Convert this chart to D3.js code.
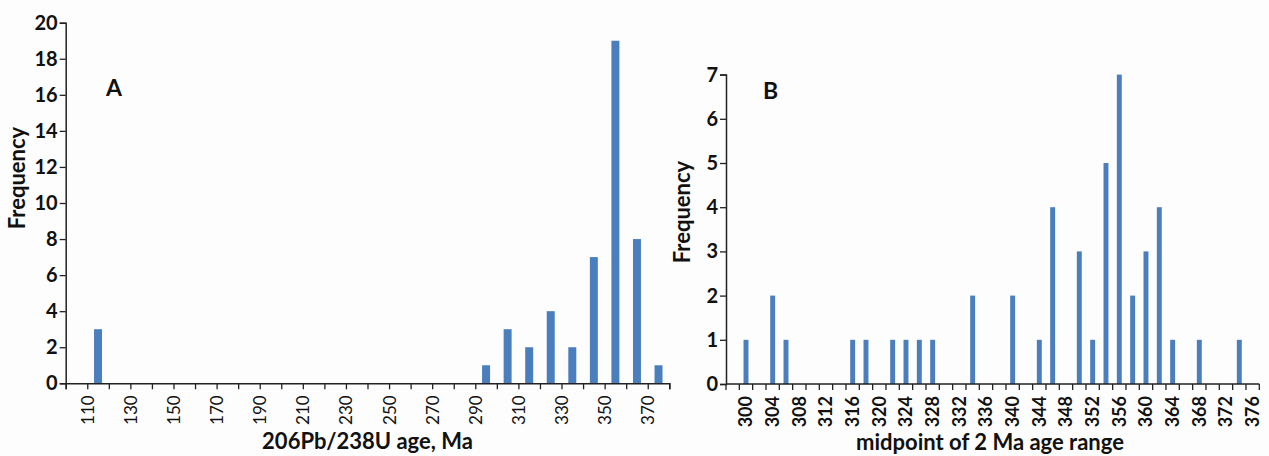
<!DOCTYPE html>
<html>
<head>
<meta charset="utf-8">
<script src="https://cdn.jsdelivr.net/npm/d3@7"></script>
<style>
  html, body { margin: 0; padding: 0; background: #fdfdfd; }
  svg { display: block; }
  text { font-family: Lato, "Open Sans", sans-serif; fill: #111; }
</style>
</head>
<body>
<svg id="chart" width="1269" height="456"></svg>
<script>
// ---- Panel A data: 10 Ma bins (bin centres) ----
const binCentresA = [115, 295, 305, 315, 325, 335, 345, 355, 365, 375];
const freqA = [3, 1, 3, 2, 4, 2, 7, 19, 8, 1];
const xTickLabelsA = [110, 130, 150, 170, 190, 210, 230, 250, 270, 290, 310, 330, 350, 370];
const yTicksA = [0, 2, 4, 6, 8, 10, 12, 14, 16, 18, 20];

// ---- Panel B data: midpoints of 2 Ma ranges ----
const categoriesB = d3.range(298, 377, 2);
const midpointsB = [300, 304, 306, 316, 318, 322, 324, 326, 328, 334, 340, 344, 346, 350, 352, 354, 356, 358, 360, 362, 364, 368, 374];
const freqB =      [1,   2,   1,   1,   1,   1,   1,   1,   1,   2,   2,   1,   4,   3,   1,   5,   7,   2,   3,   4,   1,   1,   1];
const xTickLabelsB = d3.range(300, 377, 4);
const yTicksB = [0, 1, 2, 3, 4, 5, 6, 7];

const barColor = "#4a7ebd";
const axisColor = "#222";
const svg = d3.select("#chart");

function styleAxis(g) {
  g.select(".domain").attr("stroke", axisColor).attr("stroke-width", 1.5);
  g.selectAll(".tick line").attr("stroke", axisColor).attr("stroke-width", 1.3);
}

// ================= Panel A =================
{
  const x = d3.scaleLinear().domain([100, 380]).range([65.7, 669.3]);
  const y = d3.scaleLinear().domain([0, 20]).range([383.3, 22.7]);
  const g = svg.append("g");

  g.selectAll("rect.bar").data(binCentresA).join("rect")
    .attr("class", "bar")
    .attr("x", d => x(d - 1.85))
    .attr("width", d => x(d + 1.85) - x(d - 1.85))
    .attr("y", (d, i) => y(freqA[i]))
    .attr("height", (d, i) => y(0) - y(freqA[i]))
    .attr("fill", barColor);

  // y axis
  const ya = g.append("g").attr("transform", `translate(${x(100)},0)`)
    .call(d3.axisLeft(y).tickValues(yTicksA).tickSize(6).tickPadding(2).tickFormat(d3.format("d")));
  styleAxis(ya);
  ya.selectAll(".tick text").attr("font-size", 20).attr("font-weight", 700).attr("fill", "#111");

  // x axis: tick marks every 10 Ma
  const xa = g.append("g").attr("transform", `translate(0,${y(0)})`)
    .call(d3.axisBottom(x).tickValues(d3.range(100, 381, 10)).tickSize(6)
      .tickFormat(d => xTickLabelsA.includes(d) ? d : ""));
  styleAxis(xa);
  xa.selectAll(".tick text")
    .attr("font-size", 17).attr("font-weight", 400).attr("fill", "#111")
    .attr("transform", "rotate(-90)")
    .attr("text-anchor", "end")
    .attr("x", -12).attr("y", 0).attr("dy", "0.35em");

  g.append("text").attr("x", x(240)).attr("y", 449)
    .attr("text-anchor", "middle").attr("font-size", 22).attr("font-weight", 700)
    .text("206Pb/238U age, Ma");
  g.append("text").attr("transform", "translate(25,178) rotate(-90)")
    .attr("text-anchor", "middle").attr("font-size", 22).attr("font-weight", 700)
    .text("Frequency");
  g.append("text").attr("x", 106).attr("y", 96)
    .attr("font-size", 23).attr("font-weight", 700).text("A");
}

// ================= Panel B =================
{
  const x = d3.scaleBand().domain(categoriesB).range([726, 1259.3]).paddingInner(0).paddingOuter(0);
  const y = d3.scaleLinear().domain([0, 7]).range([384, 74.6]);
  const g = svg.append("g");
  const bw = x.bandwidth() * 0.37;

  g.selectAll("rect.bar").data(midpointsB).join("rect")
    .attr("class", "bar")
    .attr("x", d => x(d) + x.bandwidth() / 2 - bw / 2)
    .attr("width", bw)
    .attr("y", (d, i) => y(freqB[i]))
    .attr("height", (d, i) => y(0) - y(freqB[i]))
    .attr("fill", barColor);

  const ya = g.append("g").attr("transform", `translate(726,0)`)
    .call(d3.axisLeft(y).tickValues(yTicksB).tickSize(6).tickPadding(2).tickFormat(d3.format("d")));
  styleAxis(ya);
  ya.selectAll(".tick text").attr("font-size", 20).attr("font-weight", 700).attr("fill", "#111");

  // x axis line with boundary tick marks
  const xa = g.append("g").attr("transform", `translate(0,${y(0)})`);
  xa.append("line").attr("x1", 726).attr("x2", 1259.3).attr("y1", 0).attr("y2", 0)
    .attr("stroke", axisColor).attr("stroke-width", 1.5);
  const boundaries = categoriesB.map(c => x(c)).concat([x(categoriesB[categoriesB.length - 1]) + x.bandwidth()]);
  xa.selectAll("line.tk").data(boundaries).join("line").attr("class", "tk")
    .attr("x1", d => d).attr("x2", d => d).attr("y1", 0).attr("y2", 6)
    .attr("stroke", axisColor).attr("stroke-width", 1.3);
  xa.selectAll("text.lbl").data(xTickLabelsB).join("text").attr("class", "lbl")
    .attr("transform", d => `translate(${x(d) + x.bandwidth() / 2},12) rotate(-90)`)
    .attr("text-anchor", "end").attr("dy", "0.35em")
    .attr("font-size", 18).attr("font-weight", 700)
    .text(d => d);

  g.append("text").attr("x", 990).attr("y", 450)
    .attr("text-anchor", "middle").attr("font-size", 22).attr("font-weight", 700)
    .text("midpoint of 2 Ma age range");
  g.append("text").attr("transform", "translate(690,212) rotate(-90)")
    .attr("text-anchor", "middle").attr("font-size", 22).attr("font-weight", 700)
    .text("Frequency");
  g.append("text").attr("x", 763).attr("y", 99)
    .attr("font-size", 23).attr("font-weight", 700).text("B");
}
</script>
</body>
</html>
